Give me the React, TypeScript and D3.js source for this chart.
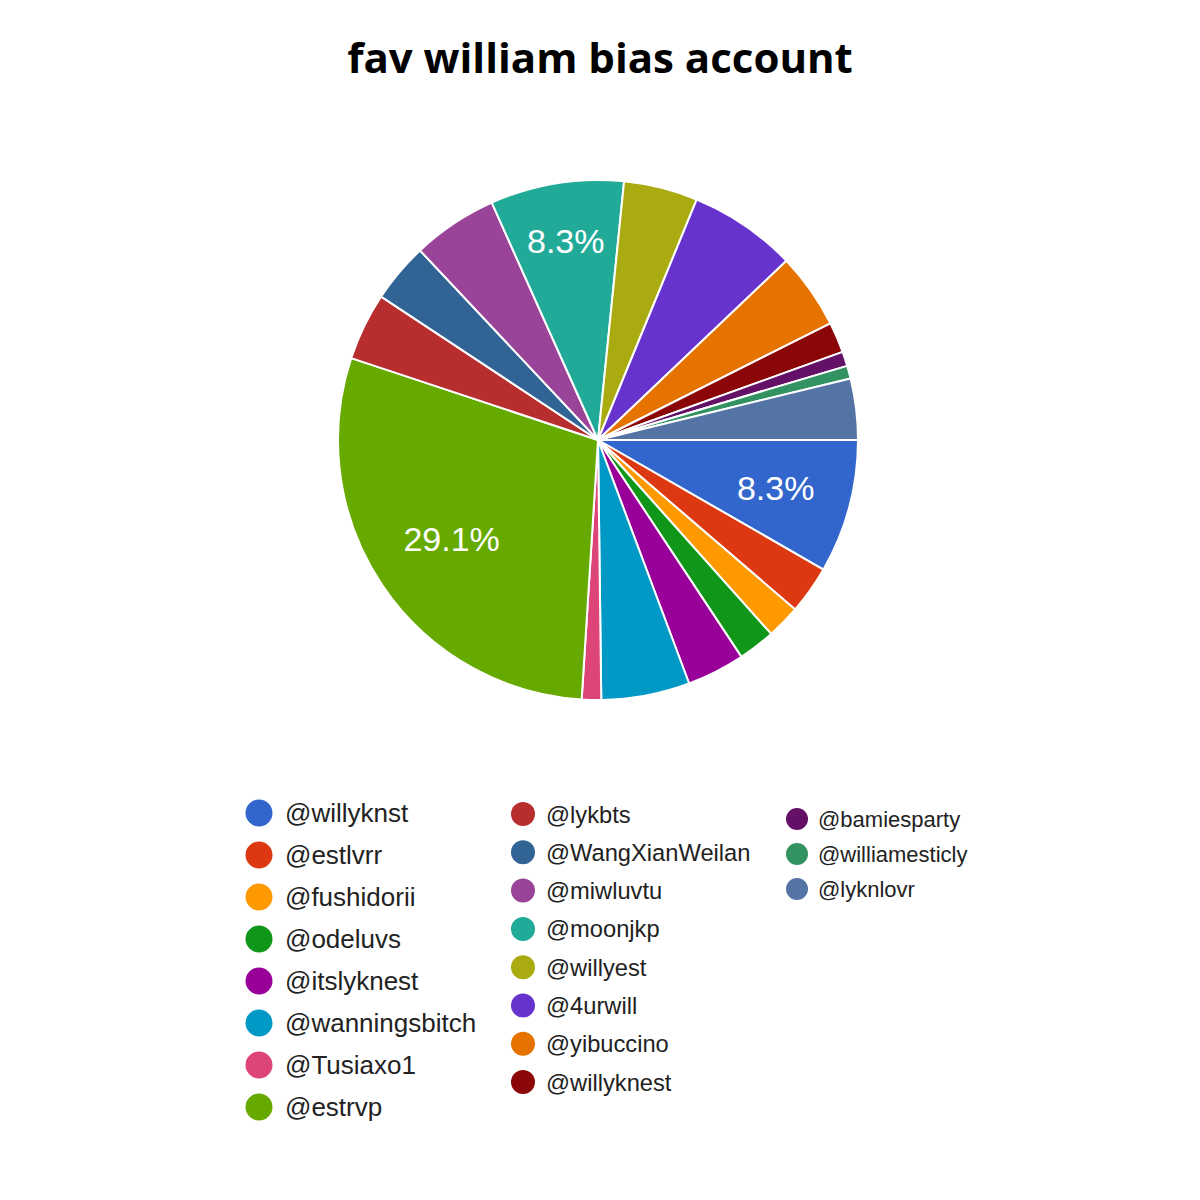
import { useMemo } from "react";
import { arc, pie } from "d3";

const accounts = [
  "@willyknst",
  "@estlvrr",
  "@fushidorii",
  "@odeluvs",
  "@itslyknest",
  "@wanningsbitch",
  "@Tusiaxo1",
  "@estrvp",
  "@lykbts",
  "@WangXianWeilan",
  "@miwluvtu",
  "@moonjkp",
  "@willyest",
  "@4urwill",
  "@yibuccino",
  "@willyknest",
  "@bamiesparty",
  "@williamesticly",
  "@lyknlovr",
];

// share of votes (%)
const shares = [8.3, 3.0, 2.1, 2.3, 3.6, 5.5, 1.2, 29.1, 4.2, 3.7, 5.3, 8.3, 4.6, 6.7, 4.7, 1.9, 0.9, 0.8, 3.8];

const palette = [
  "#3366cc", "#dc3912", "#ff9900", "#109618", "#990099", "#0099c6", "#dd4477",
  "#66aa00", "#b82e2e", "#316395", "#994499", "#22aa99", "#aaaa11", "#6633cc",
  "#e67300", "#8b0707", "#651067", "#329262", "#5574a6",
];

// legend columns: which accounts go where (the source image mixes three scales)
const legendColumns = [
  { from: 0, to: 8, cx: 259, r: 13.5, fontSize: 26, y0: 813, step: 42, gap: 26 },
  { from: 8, to: 16, cx: 523, r: 12, fontSize: 23.7, y0: 814, step: 38.3, gap: 23 },
  { from: 16, to: 19, cx: 797, r: 11, fontSize: 22, y0: 819, step: 35, gap: 21 },
];

const LABEL_FONT = 34;
const FONT = "'Liberation Sans', Arial, sans-serif";

function textWidth(text: string, size: number) {
  const ctx = document.createElement("canvas").getContext("2d");
  if (!ctx) return text.length * size * 0.57;
  ctx.font = `${size}px ${FONT}`;
  return ctx.measureText(text).width;
}

export default function App() {
  const width = 1200;
  const height = 1200;
  const cx = 598;
  const cy = 440;
  const radius = 260;

  const total = shares.reduce((a, b) => a + b, 0);

  const slices = useMemo(
    () =>
      pie<number>()
        .sort(null)
        .value((d) => d)
        .startAngle(Math.PI / 2)
        .endAngle(Math.PI / 2 + Math.PI * 2)(shares),
    []
  );

  const sliceArc = arc<any>().innerRadius(0).outerRadius(radius);

  // push label out along the bisector until its outer corner reaches ~0.865R
  const labelPos = (a: number, w: number, h: number) => {
    const sx = Math.sin(a);
    const sy = -Math.cos(a);
    const target = radius * 0.865;
    let lo = 0;
    let hi = radius;
    for (let i = 0; i < 40; i++) {
      const r = (lo + hi) / 2;
      const px = r * sx + Math.sign(sx) * (w / 2);
      const py = r * sy + Math.sign(sy) * (h / 2);
      if (Math.hypot(px, py) > target) hi = r;
      else lo = r;
    }
    return { x: lo * sx, y: lo * sy };
  };

  return (
    <svg
      width={width}
      height={height}
      viewBox={`0 0 ${width} ${height}`}
      style={{ position: "absolute", left: 0, top: 0, background: "#ffffff" }}
    >
      <rect width={width} height={height} fill="#ffffff" />
      <text
        x={600}
        y={73}
        textAnchor="middle"
        fontFamily="'Open Sans', 'Noto Sans', sans-serif"
        fontWeight={700}
        fontSize={42}
        fill="#000000"
      >
        fav william bias account
      </text>

      <g transform={`translate(${cx},${cy})`}>
        {slices.map((s, i) => (
          <path key={accounts[i]} d={sliceArc(s) ?? ""} fill={palette[i]} stroke="#ffffff" strokeWidth={2} strokeLinejoin="round" />
        ))}
        {slices.map((s, i) => {
          const frac = s.value / total;
          if (frac < 0.08) return null;
          const label = `${(frac * 100).toFixed(1)}%`;
          const w = textWidth(label, LABEL_FONT);
          const h = LABEL_FONT * 0.82;
          const mid = (s.startAngle + s.endAngle) / 2;
          const p = labelPos(mid, w, h);
          return (
            <text
              key={`label-${accounts[i]}`}
              x={p.x}
              y={p.y + LABEL_FONT * 0.36}
              textAnchor="middle"
              fontFamily={FONT}
              fontSize={LABEL_FONT}
              fill="#ffffff"
            >
              {label}
            </text>
          );
        })}
      </g>

      {legendColumns.map((col) => (
        <g key={`col-${col.from}`}>
          {accounts.slice(col.from, col.to).map((name, j) => {
            const idx = col.from + j;
            const y = col.y0 + j * col.step;
            return (
              <g key={name}>
                <circle cx={col.cx} cy={y} r={col.r} fill={palette[idx]} />
                <text
                  x={col.cx + col.gap}
                  y={y + col.fontSize * 0.36}
                  fontFamily={FONT}
                  fontSize={col.fontSize}
                  fill="#222222"
                >
                  {name}
                </text>
              </g>
            );
          })}
        </g>
      ))}
    </svg>
  );
}
